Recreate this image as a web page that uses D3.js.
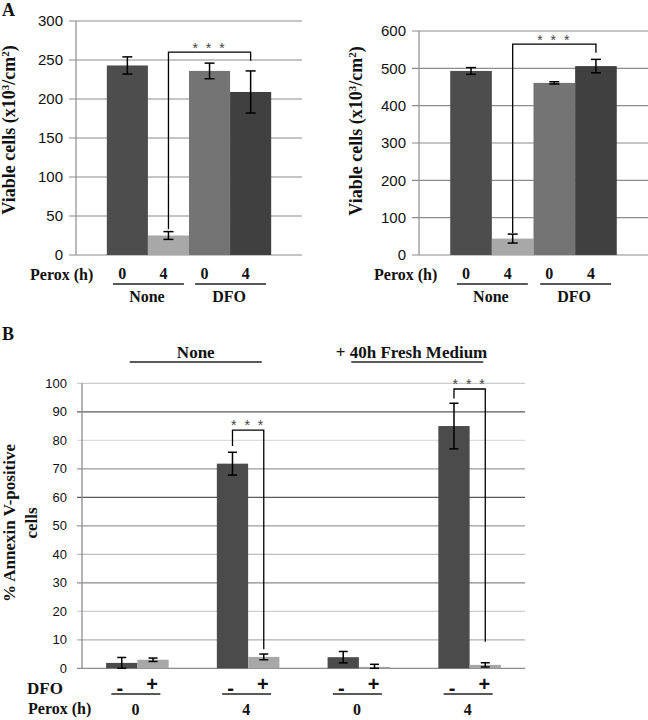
<!DOCTYPE html>
<html><head><meta charset="utf-8">
<script src="https://cdn.jsdelivr.net/npm/d3@7"></script>
<style>body{margin:0;background:#fff}svg{display:block}</style>
</head><body>
<svg id="c" width="648" height="720"></svg>
<script>
// ---------- DATA ----------
// Panel A (viable cells)
const aCategories = ["None-0", "None-4", "DFO-0", "DFO-4"];
const aPeroxLabels = ["0", "4", "0", "4"];
const aGroups = ["None", "DFO"];
const aLeftValues = [243, 25, 236, 209];
const aLeftErrors = [11, 5, 10, 27];
const aLeftTicks = [0, 50, 100, 150, 200, 250, 300];
const aRightValues = [493, 44, 461, 506];
const aRightErrors = [9, 12, 3, 18];
const aRightTicks = [0, 100, 200, 300, 400, 500, 600];
// significance brackets [fromIndex, toIndex, leftEnd, top, rightEnd] in data units
const aLeftBracket = [1, 3, 33, 260, 249];
const aRightBracket = [1, 3, 59, 565, 542];

// Panel B (% Annexin V-positive)
const bPerox = ["0", "4", "0", "4"];
const bDFO = ["-", "+"];
const bMinusValues = [1.9, 71.8, 3.9, 85.0];
const bMinusErrors = [1.9, 4.0, 2.0, 8.0];
const bPlusValues = [3.0, 4.0, 0.5, 1.2];
const bPlusErrors = [0.6, 1.0, 0.9, 0.75];
const bTicks = [0, 10, 20, 30, 40, 50, 60, 70, 80, 90, 100];
const bHeaders = ["None", "+ 40h Fresh Medium"];
// brackets [group, leftEnd, top, rightEnd]
const bBrackets = [[1, 78, 83.6, 6.7], [3, 94.7, 98, 9.3]];

// ---------- STYLE ----------
const SERIF = "'Liberation Serif','Times New Roman',serif";
const SANS = "'Liberation Sans',Arial,sans-serif";
const aColors = ["#4d4d4d", "#a8a8a8", "#747474", "#404040"];
const bColors = {"-": "#4b4b4b", "+": "#a7a7a7"};
const axisGray = "#8c8c8c";
const bGridShade = {10: "#b0b0b0", 20: "#cfcfcf", 30: "#8a8a8a", 40: "#bdbdbd", 50: "#9a9a9a",
                    60: "#5a5a5a", 70: "#999999", 80: "#dcdcdc", 90: "#5a5a5a", 100: "#cccccc"};

const svg = d3.select("#c");

function panelA(opt) {
  const g = svg.append("g");
  const y = d3.scaleLinear().domain([0, d3.max(opt.ticks)]).range([opt.y0, opt.y1]);
  const x = d3.scaleBand().domain(aCategories).range([opt.x0, opt.x1]).paddingInner(0).paddingOuter(0.75);

  // gridlines
  g.selectAll(".grid").data(opt.ticks).join("line")
    .attr("x1", opt.x0 - 7).attr("x2", opt.x1)
    .attr("y1", d => y(d)).attr("y2", d => y(d))
    .attr("stroke", axisGray).attr("stroke-width", 1.2);
  g.append("line").attr("x1", opt.x0).attr("x2", opt.x0)
    .attr("y1", y(d3.max(opt.ticks))).attr("y2", y(0))
    .attr("stroke", axisGray).attr("stroke-width", 1.2);
  g.selectAll(".tl").data(opt.ticks).join("text")
    .attr("x", opt.x0 - 13).attr("y", d => y(d)).attr("dy", "0.36em")
    .attr("text-anchor", "end").attr("font-family", SANS).attr("font-size", 15)
    .attr("fill", "#111").text(d => d);

  // bars
  g.selectAll(".bar").data(opt.values).join("rect")
    .attr("x", (d, i) => x(aCategories[i])).attr("width", x.bandwidth())
    .attr("y", d => y(d)).attr("height", d => y(0) - y(d))
    .attr("fill", (d, i) => aColors[i]);

  // error bars
  opt.values.forEach((v, i) => {
    const cx = x(aCategories[i]) + x.bandwidth() / 2, e = opt.errors[i];
    const lo = y(Math.max(0, v - e)), hi = y(v + e);
    g.append("line").attr("x1", cx).attr("x2", cx).attr("y1", lo).attr("y2", hi);
    g.append("line").attr("x1", cx - 5).attr("x2", cx + 5).attr("y1", lo).attr("y2", lo);
    g.append("line").attr("x1", cx - 5).attr("x2", cx + 5).attr("y1", hi).attr("y2", hi);
  });
  g.selectAll("line:not([stroke])").attr("stroke", "#000").attr("stroke-width", 1.5);

  // bracket
  const [fi, ti, le, top, re] = opt.bracket;
  const xl = x(aCategories[fi]) + x.bandwidth() / 2, xr = x(aCategories[ti]) + x.bandwidth() / 2;
  g.append("path").attr("d", `M${xl},${y(le)}V${y(top)}H${xr}V${y(re)}`)
    .attr("fill", "none").attr("stroke", "#000").attr("stroke-width", 1.3);
  g.append("text").attr("x", (xl + xr) / 2).attr("y", y(top) + 1)
    .attr("text-anchor", "middle").attr("font-family", SANS).attr("font-size", 14)
    .attr("letter-spacing", 2).attr("fill", "#444").text("* * *");

  // y label
  const lab = g.append("text").attr("transform", `translate(${opt.labX},${opt.labY}) rotate(-90)`)
    .attr("text-anchor", "middle").attr("font-family", SERIF).attr("font-weight", "bold")
    .attr("font-size", 18).attr("fill", "#111");
  lab.append("tspan").text("Viable cells (x10");
  lab.append("tspan").attr("font-size", 11).attr("dy", -6).text("3");
  lab.append("tspan").attr("dy", 6).text("/cm");
  lab.append("tspan").attr("font-size", 11).attr("dy", -6).text("2");
  lab.append("tspan").attr("dy", 6).text(")");

  // category row
  g.append("text").attr("x", opt.peroxX).attr("y", 280).attr("font-family", SERIF)
    .attr("font-weight", "bold").attr("font-size", 16).attr("fill", "#111").text("Perox (h)");
  g.selectAll(".pl").data(aPeroxLabels).join("text")
    .attr("x", (d, i) => x(aCategories[i]) + x.bandwidth() / 2 - 5).attr("y", 279)
    .attr("text-anchor", "middle").attr("font-family", SERIF).attr("font-weight", "bold")
    .attr("font-size", 16).attr("fill", "#111").text(d => d);
  aGroups.forEach((gr, k) => {
    const c = x(aCategories[2 * k + 1]);
    g.append("line").attr("x1", c - 35).attr("x2", c + 36).attr("y1", 284).attr("y2", 284)
      .attr("stroke", "#222").attr("stroke-width", 1.3);
    g.append("text").attr("x", c - 1).attr("y", 301.5).attr("text-anchor", "middle")
      .attr("font-family", SERIF).attr("font-weight", "bold").attr("font-size", 16)
      .attr("fill", "#111").text(gr);
  });
}

panelA({x0: 76, x1: 302, y0: 255, y1: 21, ticks: aLeftTicks, values: aLeftValues,
        errors: aLeftErrors, bracket: aLeftBracket, labX: 15, labY: 130, peroxX: 30});
panelA({x0: 419, x1: 648, y0: 255, y1: 31, ticks: aRightTicks, values: aRightValues,
        errors: aRightErrors, bracket: aRightBracket, labX: 362, labY: 131, peroxX: 374});

svg.append("text").attr("x", 2).attr("y", 16).attr("font-family", SERIF).attr("font-weight", "bold")
  .attr("font-size", 18).attr("fill", "#111").text("A");
svg.append("text").attr("x", 2).attr("y", 340).attr("font-family", SERIF).attr("font-weight", "bold")
  .attr("font-size", 18).attr("fill", "#111").text("B");

// ---------- PANEL B ----------
(function () {
  const g = svg.append("g");
  const x0 = 82, x1 = 525;
  const y = d3.scaleLinear().domain([0, 100]).range([668.3, 383.3]);
  const xg = d3.scaleBand().domain(d3.range(bPerox.length)).range([x0, x1])
    .paddingInner(0.435).paddingOuter(0.2175);
  const xs = d3.scaleBand().domain(bDFO).range([0, xg.bandwidth()]);

  g.selectAll(".grid").data(bTicks.slice(1)).join("line")
    .attr("x1", x0 - 5).attr("x2", x1).attr("y1", d => y(d)).attr("y2", d => y(d))
    .attr("stroke", d => bGridShade[d]).attr("stroke-width", 1.3);
  g.append("line").attr("x1", x0 - 5).attr("x2", x1).attr("y1", y(0)).attr("y2", y(0))
    .attr("stroke", axisGray).attr("stroke-width", 1.3);
  g.append("line").attr("x1", x0).attr("x2", x0).attr("y1", y(100)).attr("y2", y(0))
    .attr("stroke", axisGray).attr("stroke-width", 1.3);
  g.selectAll(".tl").data(bTicks).join("text")
    .attr("x", x0 - 15).attr("y", d => y(d)).attr("dy", "0.36em").attr("text-anchor", "end")
    .attr("font-family", SANS).attr("font-size", 13).attr("fill", "#111").text(d => d);

  const series = {"-": [bMinusValues, bMinusErrors], "+": [bPlusValues, bPlusErrors]};
  const cx = (i, s) => xg(i) + xs(s) + xs.bandwidth() / 2;
  bDFO.forEach(s => {
    const [vals, errs] = series[s];
    g.selectAll(".bar" + (s === "-" ? "m" : "p")).data(vals).join("rect")
      .attr("x", (d, i) => xg(i) + xs(s)).attr("width", xs.bandwidth())
      .attr("y", d => y(d)).attr("height", d => y(0) - y(d)).attr("fill", bColors[s]);
    vals.forEach((v, i) => {
      const lo = y(Math.max(0, v - errs[i])), hi = y(v + errs[i]), c = cx(i, s);
      [[c, c, lo, hi], [c - 4.5, c + 4.5, lo, lo], [c - 4.5, c + 4.5, hi, hi]].forEach(l =>
        g.append("line").attr("x1", l[0]).attr("x2", l[1]).attr("y1", l[2]).attr("y2", l[3])
          .attr("stroke", "#000").attr("stroke-width", 1.5));
    });
  });

  bBrackets.forEach(([gi, le, top, re]) => {
    const xl = cx(gi, "-"), xr = cx(gi, "+");
    g.append("path").attr("d", `M${xl},${y(le)}V${y(top)}H${xr}V${y(re)}`)
      .attr("fill", "none").attr("stroke", "#000").attr("stroke-width", 1.3);
    g.append("text").attr("x", (xl + xr) / 2).attr("y", y(top) - 0.5).attr("text-anchor", "middle")
      .attr("font-family", SANS).attr("font-size", 14).attr("letter-spacing", 2)
      .attr("fill", "#444").text("* * *");
  });

  // headers
  bHeaders.forEach((h, k) => {
    const mid = (xg(2 * k) + xg(2 * k + 1) + xg.bandwidth()) / 2 + 3;
    g.append("line").attr("x1", mid - 66).attr("x2", mid + 66).attr("y1", 362).attr("y2", 362)
      .attr("stroke", "#222").attr("stroke-width", 1.3);
    g.append("text").attr("x", k === 0 ? mid : mid + 70).attr("y", 358)
      .attr("text-anchor", k === 0 ? "middle" : "end").attr("font-family", SERIF)
      .attr("font-weight", "bold").attr("font-size", 17).attr("fill", "#111").text(h);
  });

  // y label
  const lab = g.append("text").attr("transform", "translate(15,523) rotate(-90)")
    .attr("text-anchor", "middle").attr("font-family", SERIF).attr("font-weight", "bold")
    .attr("font-size", 17).attr("fill", "#111");
  lab.append("tspan").attr("x", 0).attr("dy", 0).text("% Annexin V-positive");
  lab.append("tspan").attr("x", 0).attr("dy", 22).text("cells");

  // DFO row
  g.append("text").attr("x", 27).attr("y", 694).attr("font-family", SERIF).attr("font-weight", "bold")
    .attr("font-size", 17).attr("fill", "#111").text("DFO");
  bPerox.forEach((p, i) => {
    bDFO.forEach(s => {
      g.append("text").attr("x", cx(i, s) - (s === "+" ? 1 : 2)).attr("y", s === "+" ? 691 : 695)
        .attr("text-anchor", "middle").attr("font-family", SANS).attr("font-weight", "bold")
        .attr("font-size", 20).attr("fill", "#111").text(s);
    });
    const c = xg(i) + xg.bandwidth() / 2 - 2;
    g.append("line").attr("x1", c - 24).attr("x2", c + 25).attr("y1", 694).attr("y2", 694)
      .attr("stroke", "#222").attr("stroke-width", 1.3);
    g.append("text").attr("x", c).attr("y", 715).attr("text-anchor", "middle")
      .attr("font-family", SERIF).attr("font-weight", "bold").attr("font-size", 16)
      .attr("fill", "#111").text(p);
  });
  g.append("text").attr("x", 28).attr("y", 714).attr("font-family", SERIF).attr("font-weight", "bold")
    .attr("font-size", 16).attr("fill", "#111").text("Perox (h)");
})();
</script>
</body></html>
